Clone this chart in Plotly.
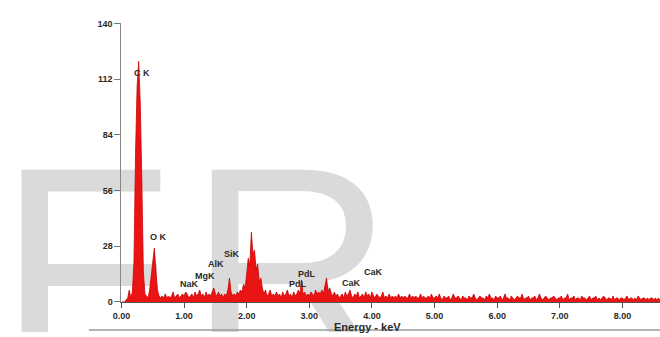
import plotly.graph_objects as go

# EDS spectrum: counts per 0.025 keV channel, starting at 0.000 keV
CHANNEL_KEV = 0.025
COUNTS = [
    0, 0, 0, 1, 2, 6, 2, 5, 20, 75, 108, 121, 100, 62, 15, 4, 3, 2, 6, 14,      # 0.000-0.475
    22, 27, 16, 6, 3, 2, 3, 2, 4, 2, 3, 2, 3, 5, 2, 3, 4, 2, 3, 4,              # 0.500-0.975
    3, 5, 4, 2, 3, 4, 2, 5, 3, 4, 6, 3, 4, 2, 5, 3, 4, 3, 5, 7,                 # 1.000-1.475
    4, 3, 5, 3, 4, 2, 4, 3, 6, 12, 5, 3, 4, 3, 5, 4, 6, 5, 9, 7,                # 1.500-1.975
    14, 22, 18, 35, 24, 26, 16, 19, 10, 12, 7, 4, 6, 3, 4, 6, 3, 4, 3, 5,       # 2.000-2.475
    3, 4, 2, 5, 3, 4, 6, 3, 4, 2, 5, 3, 4, 6, 4, 11, 4, 5, 3, 4,                # 2.500-2.975
    3, 5, 4, 3, 6, 4, 5, 4, 6, 4, 8, 12, 5, 7, 4, 3, 5, 3, 4, 2,                # 3.000-3.475
    3, 4, 2, 5, 3, 4, 6, 3, 2, 4, 3, 5, 2, 3, 4, 2, 5, 3, 4, 2,                 # 3.500-3.975
    5, 3, 2, 4, 3, 2, 3, 5, 2, 3, 2, 4, 2, 3, 2, 3, 2, 4, 2, 3,                 # 4.000-4.475
    2, 3, 2, 2, 4, 2, 3, 2, 3, 2, 2, 4, 2, 3, 2, 2, 3, 2, 4, 2,                 # 4.500-4.975
    2, 3, 2, 4, 2, 1, 3, 2, 2, 3, 1, 2, 4, 2, 2, 3, 2, 1, 3, 2,                 # 5.000-5.475
    2, 1, 3, 2, 2, 4, 2, 1, 2, 3, 2, 2, 1, 3, 2, 4, 2, 2, 1, 3,                 # 5.500-5.975
    2, 2, 3, 1, 2, 4, 2, 2, 1, 3, 2, 1, 2, 3, 2, 2, 4, 1, 2, 2,                 # 6.000-6.475
    3, 1, 2, 2, 3, 1, 2, 4, 2, 1, 2, 3, 2, 1, 2, 2, 3, 2, 1, 2,                 # 6.500-6.975
    2, 3, 1, 2, 2, 4, 1, 2, 2, 3, 1, 2, 2, 1, 3, 2, 2, 1, 2, 3,                 # 7.000-7.475
    1, 2, 2, 3, 1, 2, 1, 2, 3, 2, 1, 2, 2, 1, 3, 1, 2, 2, 1, 2,                 # 7.500-7.975
    2, 1, 2, 3, 1, 2, 2, 1, 2, 1, 3, 2, 1, 2, 2, 1, 2, 1, 2, 2,                 # 8.000-8.475
    1, 2, 1, 2, 1,                                                              # 8.500-8.600
]
ENERGY = [i * CHANNEL_KEV for i in range(len(COUNTS))]

# Peak identification labels (energy keV, counts)
PEAK_LABELS = ["C K", "O K", "NaK", "MgK", "AlK", "SiK", "PdL", "PdL", "CaK", "CaK"]
PEAK_X = [0.33, 0.59, 1.09, 1.34, 1.51, 1.76, 2.82, 2.96, 3.68, 4.03]
PEAK_Y = [115, 32.7, 8.8, 13, 19, 24, 8.8, 14, 9.3, 15]

X_TICKS = [0, 1, 2, 3, 4, 5, 6, 7, 8]
Y_TICKS = [0, 28, 56, 84, 112, 140]

WIDTH, HEIGHT = 660, 337
PLOT_LEFT, PLOT_RIGHT, PLOT_TOP, PLOT_BOTTOM = 114, 660, 19, 306

# Watermark letters, laid out in page pixels on a hidden full-page subplot
MARK_TEXT = ["F", "R"]
MARK_X = [77, 286]
MARK_Y = [298, 298]

label_font = dict(family="Liberation Sans", size=9, color="#2a2a2a", weight="bold")

fig = go.Figure()

fig.add_trace(go.Scatter(
    x=MARK_X, y=MARK_Y, text=MARK_TEXT, mode="text",
    textposition="middle center",
    textfont=dict(family="Liberation Sans", size=284, color="#dadada"),
    hoverinfo="skip", showlegend=False,
    xaxis="x", yaxis="y",
))

fig.add_trace(go.Scatter(
    x=ENERGY, y=COUNTS, mode="lines",
    line=dict(color="rgb(205,0,0)", width=0.8),
    fill="tozeroy", fillcolor="rgb(235,20,20)",
    showlegend=False, xaxis="x2", yaxis="y2",
))

for txt, px, py in zip(PEAK_LABELS, PEAK_X, PEAK_Y):
    fig.add_annotation(x=px, y=py, xref="x2", yref="y2", text=txt,
                       showarrow=False, font=label_font)

fig.add_annotation(x=(363 - PLOT_LEFT) / 63.5, y=(HEIGHT - 332) / HEIGHT,
                   xref="x2", yref="paper", yanchor="middle", text="Energy - keV",
                   showarrow=False, font=dict(label_font, size=11))

# rule along the foot of the figure
fig.add_shape(type="line", xref="paper", yref="paper",
              x0=81 / WIDTH, x1=1, y0=2 / HEIGHT, y1=2 / HEIGHT,
              line=dict(color="#9a9a9a", width=1.5))

x_lo = PLOT_LEFT / WIDTH
y_lo = (HEIGHT - PLOT_BOTTOM) / HEIGHT
y_hi = (HEIGHT - PLOT_TOP) / HEIGHT

fig.update_layout(
    width=WIDTH, height=HEIGHT,
    margin=dict(l=0, r=0, t=0, b=0),
    paper_bgcolor="white", plot_bgcolor="rgba(0,0,0,0)",
    xaxis=dict(domain=[0, 1], range=[0, WIDTH], visible=False, fixedrange=True),
    yaxis=dict(domain=[0, 1], range=[HEIGHT, 0], visible=False, fixedrange=True),
    xaxis2=dict(
        domain=[x_lo, 1], range=[0, 8.6], anchor="y2",
        tickvals=X_TICKS, tickformat=".2f", ticks="outside", ticklen=5,
        tickcolor="#555", showline=True, linecolor="#555", linewidth=1,
        showgrid=False, zeroline=False, tickfont=label_font,
    ),
    yaxis2=dict(
        domain=[y_lo, y_hi], range=[0, 140], anchor="x2",
        tickvals=Y_TICKS, ticks="outside", ticklen=6, tickcolor="#777",
        showline=True, linecolor="#888", linewidth=1,
        showgrid=False, zeroline=False, tickfont=label_font,
    ),
)

fig.write_html("out.html")
